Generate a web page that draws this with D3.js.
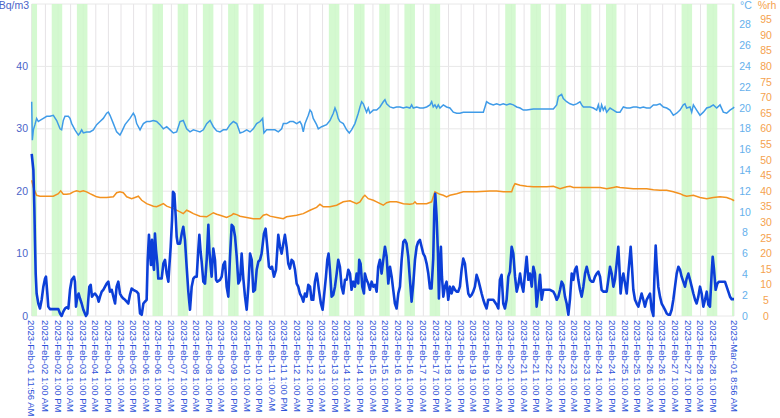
<!DOCTYPE html>
<html>
<head>
<meta charset="utf-8">
<script src="https://cdn.jsdelivr.net/npm/d3@7/dist/d3.min.js"></script>
<style>
  body { margin: 0; background: #fff; }
  svg text { font-family: "Liberation Sans", Arial, sans-serif; }
</style>
</head>
<body>
<svg width="780" height="418"></svg>
<script>
// time range of the record (UTC used as wall clock)
const START = "2023-02-01 11:56", END = "2023-03-01 08:56";

// weekdays shaded 7:00 - 17:00
const workDays = ["2023-02-01","2023-02-02","2023-02-03","2023-02-06","2023-02-07","2023-02-08",
  "2023-02-09","2023-02-10","2023-02-13","2023-02-14","2023-02-15","2023-02-16","2023-02-17",
  "2023-02-20","2023-02-21","2023-02-22","2023-02-23","2023-02-24","2023-02-27","2023-02-28","2023-03-01"];
const workHours = [7, 17];

const bqTicks = [0, 10, 20, 30, 40];
const degTicks = [0,2,4,6,8,10,12,14,16,18,20,22,24,26,28];
const rhTicks = [0,5,10,15,20,25,30,35,40,45,50,55,60,65,70,75,80,85,90,95];

// [hours since START, value]
const radon = [[0,26.0],[1.6,23.4],[2.5,17.5],[3.1,12.2],[3.8,6.8],[4.7,3.6],[6.3,2.0],[7.9,1.2],[9.5,2.6],[11.1,4.7],[12.7,6.0],[13.6,6.3],[14.9,3.6],[15.8,1.5],[17.4,1.1],[20.6,1.1],[25.4,1.1],[27.0,0.4],[28.5,0],[30.1,0.7],[31.7,1.2],[33.3,1.4],[34.9,1.2],[36.5,4.2],[38.1,5.8],[40.3,6.3],[41.2,5.5],[42.2,1.5],[43.5,3.1],[44.7,3.6],[46.0,2.8],[47.6,2.0],[49.2,1.0],[51.7,0],[53.0,0.4],[53.9,2.6],[54.9,4.7],[56.2,5.0],[57.4,3.1],[58.7,3.4],[60.3,3.6],[62.5,3.1],[63.8,2.3],[65.1,3.1],[66.7,3.9],[68.2,4.2],[71.4,5.2],[73.0,5.5],[74.6,3.9],[76.2,4.2],[77.8,3.1],[79.4,2.0],[80.9,4.7],[82.5,5.5],[84.1,3.6],[85.7,3.1],[87.3,2.8],[88.9,2.6],[90.5,2.3],[92.0,2.0],[93.6,3.4],[95.2,4.4],[96.8,4.2],[100.0,3.9],[101.6,3.6],[103.2,0.4],[104.8,0.2],[106.4,2.0],[107.9,2.3],[109.5,2.6],[110.5,9.0],[111.7,13.0],[112.7,10.0],[113.6,8.2],[114.6,12.2],[115.2,9.2],[116.5,7.4],[117.4,13.2],[118.4,10.6],[119.7,8.4],[120.6,6.0],[122.2,6.0],[123.8,6.0],[125.4,8.4],[127.0,9.0],[128.6,6.8],[130.2,5.5],[131.1,7.9],[132.4,11.1],[133.7,15.4],[134.6,19.9],[135.9,19.6],[137.2,15.9],[138.1,12.7],[139.1,11.6],[141.3,11.6],[142.9,13.2],[144.4,14.3],[146.0,12.2],[147.6,7.9],[149.2,3.9],[150.8,1.0],[152.4,4.7],[154.0,6.0],[155.6,6.3],[157.2,6.3],[158.7,10.6],[159.7,13.0],[160.9,10.3],[161.9,8.7],[163.5,5.5],[165.1,5.2],[166.7,9.0],[168.3,14.6],[169.2,10.6],[170.5,7.9],[171.4,6.3],[173.0,10.8],[174.6,9.0],[175.6,5.8],[176.8,5.5],[179.4,5.8],[181.0,6.3],[182.5,8.2],[184.1,8.7],[185.7,4.7],[187.3,3.1],[188.9,9.5],[190.5,14.6],[192.1,14.3],[193.7,12.7],[195.3,9.5],[196.9,5.2],[198.5,5.8],[200.0,10.0],[201.6,6.0],[203.2,3.1],[204.8,1.0],[206.4,4.7],[208.0,10.0],[209.6,9.0],[211.1,3.9],[212.7,4.2],[214.3,7.4],[215.9,8.7],[217.5,9.0],
  [219.0,10.0],[221.2,13.2],[222.8,14.0],[224.4,11.1],[226.0,7.9],[227.6,7.6],[228.9,7.9],[230.8,6.3],[232.7,7.4],[234.9,13.0],[236.5,11.1],[238.1,10.0],[239.7,11.6],[241.2,13.0],[242.8,11.1],[244.4,8.4],[246.0,7.6],[247.6,9.0],[249.2,8.7],[250.8,7.4],[252.4,5.2],[253.9,4.7],[255.5,3.6],[257.1,3.1],[258.7,2.3],[260.3,3.6],[261.9,3.1],[263.5,5.0],[265.1,4.7],[266.6,2.6],[268.2,2.6],[269.8,5.5],[271.4,6.8],[272.4,5.8],[273.6,4.2],[275.5,2.0],[277.1,1.0],[278.4,3.1],[280.3,6.3],[281.6,9.0],[282.8,10.0],[284.1,7.4],[285.7,3.1],[287.3,3.4],[288.9,4.7],[290.5,6.8],[292.0,9.0],[293.6,7.9],[295.2,4.7],[296.8,3.6],[298.4,5.8],[300.0,5.8],[301.6,7.4],[303.2,6.8],[304.7,4.2],[306.3,5.5],[307.9,4.7],[309.5,6.8],[311.1,5.2],[312.0,9.0],[313.3,8.4],[314.9,4.7],[316.5,3.6],[317.4,6.8],[319.0,5.8],[320.6,5.2],[322.2,4.2],[323.8,5.5],[325.4,4.7],[327.0,5.0],[328.6,3.9],[330.1,7.9],[331.7,9.0],[333.3,6.8],[334.9,9.0],[336.5,11.1],[338.1,9.5],[339.7,5.2],[341.3,7.9],[342.9,6.3],[344.4,4.2],[346.0,2.0],[347.6,1.2],[349.2,3.6],[350.8,4.7],[352.4,9.0],[354.0,11.9],[355.5,12.2],[357.1,11.6],[358.7,9.5],[360.3,5.8],[361.9,2.3],[363.5,5.2],[365.1,9.0],[366.7,11.1],[368.2,11.9],[369.8,12.2],[371.4,11.1],[373.0,10.0],[374.6,9.5],[376.2,8.4],[377.8,6.8],[379.4,4.4],[380.9,4.4],[382.5,9.2],[383.5,17.0],[384.4,19.6],[385.7,15.9],[387.0,10.0],[387.9,2.8],[388.9,7.9],[389.8,11.1],[390.8,6.3],[392.1,3.1],[393.6,4.7],[395.2,5.5],[396.8,2.6],[398.4,4.7],[400.0,3.6],[401.6,4.7],[403.2,4.2],[404.8,3.9],[406.3,3.9],[407.9,4.7],[409.5,7.4],[411.1,9.2],[412.7,8.4],[414.3,5.8],[415.9,3.6],[417.5,3.1],[419.1,3.4],[420.6,3.9],[422.2,4.7],[423.8,6.6],[425.4,5.8],[427.0,4.7],[428.6,3.6],[430.2,2.6],[431.8,1.8],[433.3,1.2],[434.9,2.6],[436.5,2.6],[439.7,2.6],[442.9,1.8],[444.5,1.2],[446.0,5.8],[447.6,6.6],[449.2,2.0],[450.8,1.2],[452.4,2.6],[454.0,6.3],[455.6,7.1],
  [457.2,11.1],[458.8,10.0],[460.4,6.3],[462.0,3.9],[463.6,5.0],[465.2,6.8],[466.7,5.0],[468.3,3.9],[469.9,6.8],[471.5,9.5],[473.1,5.8],[474.7,6.8],[476.3,4.7],[477.9,7.9],[479.4,6.8],[481.0,1.5],[482.6,3.9],[484.2,6.6],[485.8,2.6],[487.4,4.2],[490.6,4.2],[493.7,4.2],[496.9,3.9],[498.5,3.4],[500.1,2.6],[501.7,3.1],[503.3,4.2],[504.8,5.5],[506.4,5.0],[508.0,3.1],[509.6,2.0],[511.2,0.2],[512.8,2.8],[514.4,6.8],[516.0,5.8],[517.5,7.4],[519.1,7.9],[520.7,5.8],[522.3,4.2],[523.9,3.1],[525.5,4.7],[527.1,6.8],[528.7,7.9],[530.2,6.8],[531.8,5.8],[533.4,5.5],[535.0,5.5],[536.6,6.3],[538.2,6.8],[539.8,7.1],[541.4,6.3],[542.9,4.2],[544.5,3.9],[547.7,3.9],[549.3,5.8],[550.9,7.9],[552.5,6.8],[554.1,4.7],[555.6,5.8],[557.2,8.4],[558.8,11.1],[559.8,7.9],[561.0,3.6],[562.3,5.8],[563.6,6.8],[565.2,5.2],[566.8,3.6],[568.3,6.8],[570.6,11.1],[571.8,7.9],[573.1,4.2],[574.7,2.6],[576.3,2.0],[577.9,1.5],[579.5,2.6],[581.0,3.6],[582.6,2.6],[584.2,1.5],[585.8,2.6],[587.4,3.1],[589.0,3.6],[590.6,1.0],[592.2,0],[593.1,5.8],[594.4,11.3],[595.3,8.4],[596.9,4.7],[598.5,3.1],[600.1,2.0],[601.7,1.5],[603.3,1.0],[604.9,0.4],[606.5,0.2],[608.0,0.2],[609.6,1.0],[611.2,2.6],[612.8,4.7],[614.4,6.8],[616.0,7.9],[617.6,7.4],[619.1,6.3],[620.7,5.5],[622.3,4.7],[623.9,6.0],[625.5,6.8],[627.1,5.8],[628.7,4.7],[630.3,3.6],[631.9,2.6],[633.4,2.0],[635.0,3.1],[636.6,4.7],[638.2,3.6],[639.8,1.5],[641.4,2.6],[643.0,3.9],[644.6,1.8],[646.1,1.5],[647.7,6.8],[648.7,9.5],[650.0,7.4],[651.5,4.2],[653.1,5.2],[654.7,5.5],[656.3,5.5],[657.9,5.5],[660.4,5.5],[662.0,4.7],[663.6,3.9],[665.2,3.1],[666.8,2.7],[669.0,2.7]];

const temperature = [[0,20.6],[0.6,16.9],[1.6,17.9],[3.1,18.4],[4.7,19.0],[6.3,18.7],[7.9,18.8],[11.1,19.0],[14.3,19.2],[17.4,19.2],[20.6,19.3],[23.8,18.8],[27.0,18.0],[28.5,17.9],[30.1,18.8],[31.7,19.2],[34.9,19.2],[36.5,19.0],[38.1,18.5],[41.2,17.9],[44.4,17.4],[46.0,17.6],[47.6,17.9],[49.2,17.6],[52.3,17.7],[55.5,17.7],[58.7,17.9],[61.9,18.4],[65.1,18.7],[68.2,19.0],[71.4,19.5],[73.0,19.6],[74.6,19.3],[77.8,18.5],[80.9,17.7],[84.1,17.4],[85.7,17.7],[88.9,18.4],[93.6,19.0],[96.8,19.5],[98.4,19.2],[100.0,18.5],[103.2,17.9],[104.8,18.2],[106.4,18.5],[109.5,18.7],[112.7,18.7],[115.9,18.8],[119.0,18.7],[122.2,18.4],[125.4,18.0],[128.6,18.2],[131.8,17.9],[134.9,17.6],[138.1,17.7],[141.3,18.7],[144.4,18.8],[147.6,18.0],[150.8,17.7],[154.0,17.9],[157.2,17.8],[160.3,17.7],[163.5,17.9],[166.7,18.5],[169.9,18.8],[173.0,18.2],[176.2,17.8],[179.4,17.7],[182.5,17.9],[185.7,17.9],[188.9,18.4],[192.1,18.7],[195.3,18.5],[198.5,17.6],[201.6,17.7],[204.8,17.9],[208.0,17.7],[211.1,18.0],[214.3,18.5],[217.5,18.7],
  [220.0,19.0],[221.2,17.6],[223.8,17.9],[227.0,17.9],[231.7,17.9],[234.9,17.7],[238.1,18.0],[239.7,18.5],[242.8,18.5],[246.0,18.7],[249.2,18.7],[252.4,18.5],[255.5,18.7],[257.1,18.4],[258.7,17.7],[260.3,18.5],[263.5,19.3],[265.1,19.8],[266.6,19.6],[268.2,19.0],[271.4,18.4],[273.0,18.0],[276.2,18.2],[280.9,18.4],[284.1,18.8],[287.3,19.5],[288.9,20.0],[290.5,19.6],[292.0,19.0],[293.6,18.7],[296.8,18.5],[300.0,17.9],[302.5,17.6],[304.7,17.9],[307.9,18.5],[311.1,19.5],[312.7,20.1],[314.3,20.6],[315.9,20.4],[317.4,20.0],[319.0,19.6],[320.6,20.0],[322.2,19.5],[325.4,19.8],[328.6,19.8],[331.7,20.1],[334.9,20.6],[336.5,20.8],[338.1,20.4],[341.3,20.1],[344.4,20.0],[347.6,20.1],[350.8,20.1],[354.0,20.0],[357.1,20.1],[360.3,20.0],[361.9,20.3],[363.5,20.0],[366.7,20.1],[369.8,20.0],[373.0,20.0],[376.2,20.1],[379.4,20.3],[381.0,20.6],[382.5,20.1],[384.1,20.3],[385.7,20.0],[387.3,20.3],[388.9,20.0],[392.1,20.3],[395.2,20.1],[398.4,20.0],[401.6,19.6],[404.8,19.5],[407.9,19.5],[411.1,19.6],[417.5,19.6],[423.8,19.6],[430.2,19.6],[431.8,20.1],[433.3,20.6],[436.5,20.4],[439.7,20.3],[442.9,20.4],[446.0,20.3],[449.2,20.4],[452.4,20.3],[455.6,20.4],
  [458.8,20.3],[462.0,20.1],[465.2,20.0],[468.3,19.8],[471.5,19.8],[477.9,19.9],[484.2,19.9],[490.6,19.9],[496.9,19.9],[500.1,20.3],[501.7,21.1],[504.8,21.3],[506.4,20.9],[509.6,20.6],[512.8,20.4],[516.0,20.3],[519.1,20.4],[522.3,20.6],[523.9,20.3],[525.5,20.1],[528.7,20.1],[531.8,20.1],[535.0,20.0],[538.2,19.8],[539.8,20.3],[541.4,19.6],[542.9,20.3],[544.5,19.8],[546.1,20.1],[547.7,19.6],[550.9,20.0],[554.1,19.8],[557.2,19.6],[560.4,19.6],[563.6,20.1],[566.8,20.0],[569.9,20.0],[573.1,20.1],[576.3,20.1],[579.5,20.0],[582.6,20.1],[585.8,20.0],[589.0,20.0],[592.2,20.3],[595.3,20.3],[598.5,20.4],[601.7,20.1],[604.9,20.0],[608.0,19.8],[611.2,19.3],[614.4,19.5],[617.6,19.8],[620.7,20.3],[622.3,20.4],[623.9,20.0],[627.1,20.1],[628.7,19.6],[630.3,20.3],[633.4,19.8],[636.6,19.3],[639.8,19.6],[643.0,20.0],[646.1,20.1],[649.3,20.3],[652.5,20.0],[655.7,20.3],[658.8,19.6],[662.0,19.5],[665.2,19.8],[668.4,20.0],[669.0,20.1]];

const humidity = [[0,43.5],[1.6,41.2],[4.7,38.7],[7.9,38.4],[14.3,38.4],[20.6,38.4],[25.4,39.2],[27.6,40.1],[30.1,39.0],[33.3,39.0],[36.5,39.2],[39.7,39.8],[42.8,40.1],[46.0,39.8],[49.2,40.1],[52.3,39.8],[55.5,39.2],[58.7,38.7],[61.9,38.2],[65.1,38.0],[71.4,38.0],[77.8,38.2],[80.9,39.5],[84.1,39.8],[87.3,39.5],[90.5,38.2],[95.2,37.6],[98.4,38.0],[101.6,38.4],[104.8,37.1],[109.5,36.0],[115.9,35.2],[119.0,35.0],[122.2,35.5],[125.4,36.0],[128.6,35.2],[134.9,34.4],[141.3,33.4],[144.4,32.8],[147.6,33.9],[150.8,33.4],[154.0,32.8],[160.3,32.0],[166.7,31.8],[173.0,33.1],[176.2,32.6],[179.4,32.3],[185.7,31.6],[190.5,32.3],[192.1,32.8],[195.3,32.5],[198.5,32.0],[204.8,31.6],[211.1,31.2],[217.5,31.2],
  [220.6,32.3],[223.8,32.6],[227.0,32.0],[233.3,31.6],[239.7,31.2],[242.8,31.8],[246.0,32.0],[252.4,32.3],[258.7,32.8],[265.1,33.9],[271.4,34.8],[274.6,35.8],[277.8,35.0],[284.1,35.0],[290.5,35.5],[296.8,36.6],[303.2,36.9],[309.5,36.0],[312.7,36.6],[315.9,38.2],[317.4,38.7],[320.6,37.6],[325.4,37.1],[328.6,36.6],[334.9,35.5],[338.1,36.3],[341.3,36.6],[347.6,36.6],[354.0,36.0],[360.3,35.8],[363.5,36.0],[365.1,36.6],[366.7,36.0],[376.2,36.0],[381.0,36.6],[382.5,38.2],[384.1,39.8],[388.9,39.0],[392.1,38.7],[395.2,38.2],[398.4,38.7],[404.8,39.2],[411.1,39.8],[423.8,39.8],[436.5,40.1],[442.9,40.1],[449.2,39.8],[455.6,39.8],
  [457.2,39.8],[458.8,41.4],[460.4,42.4],[465.2,41.9],[471.5,41.6],[477.9,41.4],[490.6,41.4],[496.9,41.6],[503.3,40.8],[509.6,41.4],[512.8,41.6],[516.0,41.2],[541.4,41.2],[547.7,40.8],[554.1,41.2],[557.2,41.4],[560.4,41.2],[573.1,40.8],[585.8,40.8],[592.2,40.5],[598.5,40.3],[604.9,40.3],[611.2,39.8],[617.6,39.2],[620.7,38.7],[623.9,38.4],[630.3,38.7],[636.6,38.0],[643.0,37.6],[649.3,38.0],[655.7,38.2],[662.0,38.0],[665.2,37.6],[668.4,37.1],[669.0,36.9]];

const svg = d3.select("svg");

const PLOT_L = 31.7, PLOT_R = 734, PLOT_T = 4, PLOT_B = 316;

const parse = d3.utcParse("%Y-%m-%d %H:%M");
const t0 = parse(START), t1 = parse(END);
const atHour = (h) => new Date(t0.getTime() + h * 3600e3);

const x = d3.scaleUtc().domain([t0, t1]).range([PLOT_L, PLOT_R]);
const yBq = d3.scaleLinear().domain([0, 50]).range([PLOT_B, PLOT_T]);
const yDeg = d3.scaleLinear().domain([0, 30]).range([PLOT_B, PLOT_T]);
const yRh = d3.scaleLinear().domain([0, 100]).range([PLOT_B, PLOT_T]);

// x ticks: every 12h at 1:00, plus start and end
const xTicks = [t0].concat(d3.utcHour.range(parse("2023-02-02 01:00"), parse("2023-03-01 00:00"), 12), [t1]);
const fmt = d3.utcFormat("%Y-%b-%d %-I:%M %p");

// work-day bands
const bands = workDays.map(d => {
    let a = d3.max([parse(d + " 00:00").getTime() + workHours[0] * 3600e3, t0.getTime()]);
    let b = d3.min([parse(d + " 00:00").getTime() + workHours[1] * 3600e3, t1.getTime()]);
    return [new Date(a), new Date(b)];
});

// grid
svg.append("g").selectAll("line")
   .data(xTicks)
   .enter().append("line")
   .attr("x1", d => x(d)).attr("x2", d => x(d))
   .attr("y1", PLOT_T).attr("y2", PLOT_B)
   .attr("stroke", "#e6e3e6");

svg.append("g").selectAll("line")
   .data([0, 10, 20, 30, 40, 50])
   .enter().append("line")
   .attr("x1", PLOT_L).attr("x2", PLOT_R)
   .attr("y1", d => yBq(d)).attr("y2", d => yBq(d))
   .attr("stroke", "#e8e8e8");

svg.append("g").selectAll("rect")
   .data(bands)
   .enter().append("rect")
   .attr("x", d => x(d[0]))
   .attr("width", d => x(d[1]) - x(d[0]))
   .attr("y", PLOT_T).attr("height", PLOT_B - PLOT_T)
   .attr("fill", "#ccf8c8")
   .attr("opacity", 0.85);

// lines
const line = (yScale) => d3.line()
    .x(d => x(atHour(d[0])))
    .y(d => yScale(d[1]));

svg.append("path").datum(temperature)
   .attr("d", line(yDeg))
   .attr("fill", "none").attr("stroke", "#3f9be8").attr("stroke-width", 1.5);

svg.append("path").datum(humidity)
   .attr("d", line(yRh))
   .attr("fill", "none").attr("stroke", "#f3921f").attr("stroke-width", 1.5);

svg.append("path").datum(radon)
   .attr("d", line(yBq))
   .attr("fill", "none").attr("stroke", "#0c3fd8").attr("stroke-width", 2.6)
   .attr("stroke-linejoin", "round");

// left axis labels
svg.append("g").selectAll("text")
   .data(bqTicks)
   .enter().append("text")
   .attr("x", 28).attr("y", d => yBq(d)).attr("dy", "0.35em")
   .attr("text-anchor", "end")
   .attr("font-size", 10.5).attr("fill", "#4b64c8")
   .text(d => d);

svg.append("text").attr("x", 29).attr("y", 9)
   .attr("text-anchor", "end").attr("font-size", 10.5).attr("fill", "#4b64c8")
   .text("Bq/m3");

// right axes labels
svg.append("g").selectAll("text")
   .data(degTicks)
   .enter().append("text")
   .attr("x", 745).attr("y", d => yDeg(d)).attr("dy", "0.35em")
   .attr("text-anchor", "middle")
   .attr("font-size", 10.5).attr("fill", "#66b0ec")
   .text(d => d);

svg.append("text").attr("x", 746).attr("y", 9)
   .attr("text-anchor", "middle").attr("font-size", 10.5).attr("fill", "#66b0ec")
   .text("°C");

svg.append("g").selectAll("text")
   .data(rhTicks)
   .enter().append("text")
   .attr("x", 766).attr("y", d => yRh(d)).attr("dy", "0.35em")
   .attr("text-anchor", "middle")
   .attr("font-size", 10.5).attr("fill", "#f5a24e")
   .text(d => d);

svg.append("text").attr("x", 767).attr("y", 9)
   .attr("text-anchor", "middle").attr("font-size", 10.5).attr("fill", "#f5a24e")
   .text("%rh");

// x labels, rotated
svg.append("g").selectAll("text")
   .data(xTicks)
   .enter().append("text")
   .attr("transform", d => `translate(${x(d)},${PLOT_B + 4}) rotate(90)`)
   .attr("dy", "0.35em")
   .attr("font-size", 9.5).attr("fill", "#2d52d8")
   .text(d => fmt(d));
</script>
</body>
</html>
